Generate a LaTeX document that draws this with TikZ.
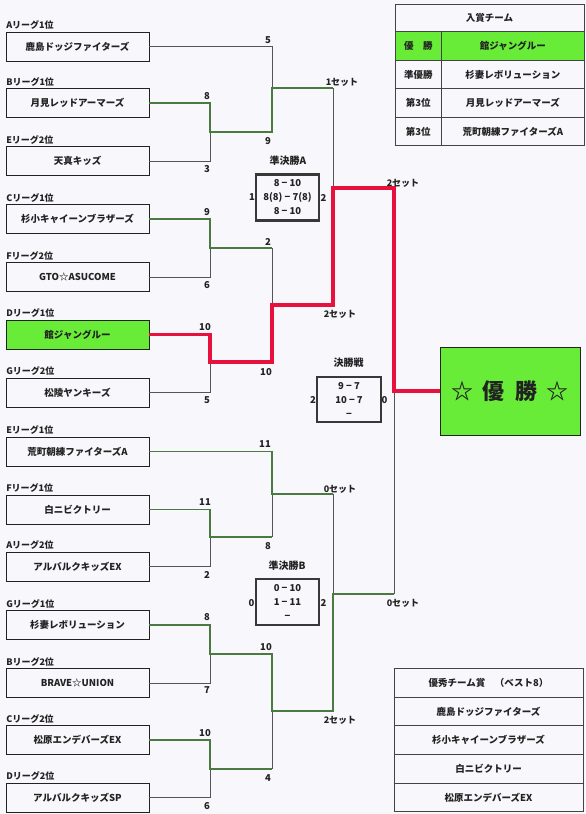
\documentclass[tikz,border=0pt]{standalone}
\usepackage{fontspec}
\setmainfont{Noto Sans CJK JP}
\definecolor{bgc}{RGB}{248,248,252}
\definecolor{lgreen}{RGB}{74,122,66}
\definecolor{lgray}{RGB}{85,85,85}
\definecolor{lred}{RGB}{232,16,60}
\definecolor{fgreen}{RGB}{104,236,56}
\definecolor{ink}{RGB}{34,34,34}
\begin{document}
\begin{tikzpicture}[x=1pt,y=-1pt,
  every node/.style={text=ink},
  team/.style={draw=ink, line width=0.9pt, minimum width=143pt, minimum height=29pt, inner sep=0pt, font=\fontsize{9.5}{10}\selectfont\bfseries},
  lg/.style={anchor=west, inner sep=0pt, font=\fontsize{9}{10}\selectfont\bfseries},
  sc/.style={inner sep=0pt, font=\fontsize{9.5}{10}\selectfont\bfseries},
  setl/.style={inner sep=0pt, font=\fontsize{9}{10}\selectfont\bfseries},
  ttl/.style={inner sep=0pt, font=\fontsize{10}{11}\selectfont\bfseries},
  semibox/.style={draw=ink!90, line width=2.4pt, minimum width=63pt, minimum height=46pt, inner sep=0pt, align=center, font=\fontsize{9.5}{14}\selectfont\bfseries},
  cell/.style={draw=ink!85, line width=0.8pt, inner sep=0pt, font=\fontsize{9.5}{10}\selectfont\bfseries},
  gy/.style={draw=lgray, line width=1pt},
  gl/.style={draw=lgreen, line width=1.5pt},
  rd/.style={draw=lred, line width=3.6pt, line join=miter}
]
\path[fill=bgc, use as bounding box] (0,0) rectangle (586,814);

% ---------- teams ----------
\node[team] (t1) at (77.5,46.7) {鹿島ドッジファイターズ};
\node[team] (t2) at (77.5,103) {月見レッドアーマーズ};
\node[team] (t3) at (77.5,161) {天真キッズ};
\node[team] (t4) at (77.5,219) {杉小キャイーンブラザーズ};
\node[team] (t5) at (77.5,277) {GTO☆ASUCOME};
\node[team, fill=fgreen] (t6) at (77.5,334.5) {館ジャングルー};
\node[team] (t7) at (77.5,392.5) {松陵ヤンキーズ};
\node[team] (t8) at (77.5,451.5) {荒町朝練ファイターズA};
\node[team] (t9) at (77.5,509.5) {白ニビクトリー};
\node[team] (t10) at (77.5,566.5) {アルバルクキッズEX};
\node[team] (t11) at (77.5,625) {杉妻レボリューション};
\node[team] (t12) at (77.5,683) {BRAVE☆UNION};
\node[team] (t13) at (77.5,740) {松原エンデバーズEX};
\node[team] (t14) at (77.5,797.5) {アルバルクキッズSP};

\foreach \n/\s in {t1/Aリーグ1位, t2/Bリーグ1位, t3/Eリーグ2位, t4/Cリーグ1位, t5/Fリーグ2位, t6/Dリーグ1位, t7/Gリーグ2位, t8/Eリーグ1位, t9/Fリーグ1位, t10/Aリーグ2位, t11/Gリーグ1位, t12/Bリーグ2位, t13/Cリーグ2位, t14/Dリーグ2位}
  \node[lg] (l\n) at ([yshift=6.5pt,xshift=0.5pt]\n.north west) {\s};

% ---------- joints ----------
\coordinate (j1) at (210,132);
\coordinate (j2) at (210,248);
\coordinate (j3) at (210,362);
\coordinate (j5) at (210,537);
\coordinate (j6) at (210,654);
\coordinate (j7) at (210,769);
\coordinate (c1) at (272,132);
\coordinate (c2) at (272,248);
\coordinate (c3) at (272,362);
\coordinate (c5) at (272,537);
\coordinate (c6) at (272,654);
\coordinate (c7) at (272,769);
\coordinate (k1) at (272,88);
\coordinate (k2) at (272,305);
\coordinate (k3) at (272,494);
\coordinate (k4) at (272,711);
\coordinate (n1) at (333,88);
\coordinate (n2) at (333,305);
\coordinate (n3) at (333,494);
\coordinate (n4) at (333,711);
\coordinate (m1) at (333,188);
\coordinate (m2) at (333,594);
\coordinate (p1) at (394,188);
\coordinate (p2) at (394,594);
\coordinate (f) at (394,391);

% champion box
\node[draw=ink, line width=1pt, fill=fgreen, minimum width=140pt, minimum height=88pt, inner sep=0pt,
      font=\fontsize{22}{24}\selectfont\bfseries] (champ) at (510,391) {☆\hspace{10pt}優\hspace{10pt}勝\hspace{10pt}☆};

% ---------- gray (losing) lines ----------
\draw[gy] (t1.east) -- (t1.east -| k1) -- (k1);
\draw[gy] (t3.east) -- (t3.east -| j1) -- (j1);
\draw[gy] (t5.east) -- (t5.east -| j2) -- (j2);
\draw[gy] (c2) -- (k2);
\draw[gy] (t7.east) -- (t7.east -| j3) -- (j3);
\draw[gy] (n1) -- (m1);
\draw[gy] (k3) -- (c5);
\draw[gy] (t10.east) -- (t10.east -| j5) -- (j5);
\draw[gy] (n3) -- (m2);
\draw[gy] (t12.east) -- (t12.east -| j6) -- (j6);
\draw[gy] (k4) -- (c7);
\draw[gy] (t14.east) -- (t14.east -| j7) -- (j7);
\draw[gy] (f) -- (p2);

% ---------- green (winning) lines ----------
\draw[gl] (t2.east) -- (t2.east -| j1) -- (j1) -- (c1) -- (k1) -- (n1);
\draw[gl] (t4.east) -- (t4.east -| j2) -- (j2) -- (c2);
\draw[gl] (t8.east) -- (t8.east -| k3) -- (k3) -- (n3);
\draw[gl] (t9.east) -- (t9.east -| j5) -- (j5) -- (c5);
\draw[gl] (t11.east) -- (t11.east -| j6) -- (j6) -- (c6) -- (k4) -- (n4) -- (m2) -- (p2);
\draw[gl] (t13.east) -- (t13.east -| j7) -- (j7) -- (c7);

% ---------- red (champion) line ----------
\draw[rd] (t6.east) -- (t6.east -| j3) -- (j3) -- (c3) -- (k2) -- (n2) -- (m1) -- (p1) -- (f) -- (champ.west);

% ---------- scores ----------
\node[sc] at (268,40) {5};
\node[sc] at (207,96) {8};
\node[sc] at (207,169) {3};
\node[sc] at (268,141) {9};
\node[sc] at (207,212) {9};
\node[sc] at (207,285) {6};
\node[sc] at (268,242) {2};
\node[sc] at (205,327) {10};
\node[sc] at (207,400) {5};
\node[sc] at (266,372) {10};
\node[sc] at (265,444) {11};
\node[sc] at (205,502) {11};
\node[sc] at (207,575) {2};
\node[sc] at (268,546) {8};
\node[sc] at (207,617) {8};
\node[sc] at (207,690) {7};
\node[sc] at (266,647) {10};
\node[sc] at (205,733) {10};
\node[sc] at (207,806) {6};
\node[sc] at (268,778) {4};

\node[setl] at (342,82) {1セット};
\node[setl] at (340,314) {2セット};
\node[setl] at (403,183) {2セット};
\node[setl] at (340,489) {0セット};
\node[setl] at (340,720) {2セット};
\node[setl] at (403,603) {0セット};

% ---------- match boxes ----------
\node[semibox] (sa) at (287.5,197.5) {8 − 10\\8(8) − 7(8)\\8 − 10};
\node[ttl] at (288,160.5) {準決勝A};
\node[sc] at (252,197.5) {1};
\node[sc] at (323.5,197.5) {2};

\node[semibox] (sb) at (287.5,602) {0 − 10\\1 − 11\\−};
\node[ttl] at (287,565.5) {準決勝B};
\node[sc] at (251.5,603) {0};
\node[sc] at (323.5,603) {2};

\node[semibox, minimum width=63.5pt, minimum height=45pt] (fin) at (349,399.5) {9 − 7\\10 − 7\\−};
\node[ttl] at (348.5,362.5) {決勝戦};
\node[sc] at (313,400) {2};
\node[sc] at (384.5,400) {0};

% ---------- prize table ----------
\node[cell, minimum width=189pt, minimum height=27.75pt] (h0) at (489.5,17.9) {入賞チーム};
\node[cell, fill=fgreen, minimum width=46.7pt, minimum height=28.5pt] (r1a) at (418.35,46) {優\hspace{1em}勝};
\node[cell, fill=fgreen, minimum width=142.3pt, minimum height=28.5pt] (r1b) at (512.85,46) {館ジャングルー};
\node[cell, minimum width=46.7pt, minimum height=28.5pt] (r2a) at (418.35,74.5) {準優勝};
\node[cell, minimum width=142.3pt, minimum height=28.5pt] (r2b) at (512.85,74.5) {杉妻レボリューション};
\node[cell, minimum width=46.7pt, minimum height=28.5pt] (r3a) at (418.35,103) {第3位};
\node[cell, minimum width=142.3pt, minimum height=28.5pt] (r3b) at (512.85,103) {月見レッドアーマーズ};
\node[cell, minimum width=46.7pt, minimum height=28.5pt] (r4a) at (418.35,131.5) {第3位};
\node[cell, minimum width=142.3pt, minimum height=28.5pt] (r4b) at (512.85,131.5) {荒町朝練ファイターズA};

% ---------- best 8 table ----------
\node[cell, minimum width=189pt, minimum height=28.7pt] (b0) at (488.5,682.65) {優秀チーム賞　（ベスト8）};
\node[cell, minimum width=189pt, minimum height=28.7pt] (b1) at (488.5,711.35) {鹿島ドッジファイターズ};
\node[cell, minimum width=189pt, minimum height=28.7pt] (b2) at (488.5,740.05) {杉小キャイーンブラザーズ};
\node[cell, minimum width=189pt, minimum height=28.7pt] (b3) at (488.5,768.75) {白ニビクトリー};
\node[cell, minimum width=189pt, minimum height=28.7pt] (b4) at (488.5,797.45) {松原エンデバーズEX};
\end{tikzpicture}
\end{document}
